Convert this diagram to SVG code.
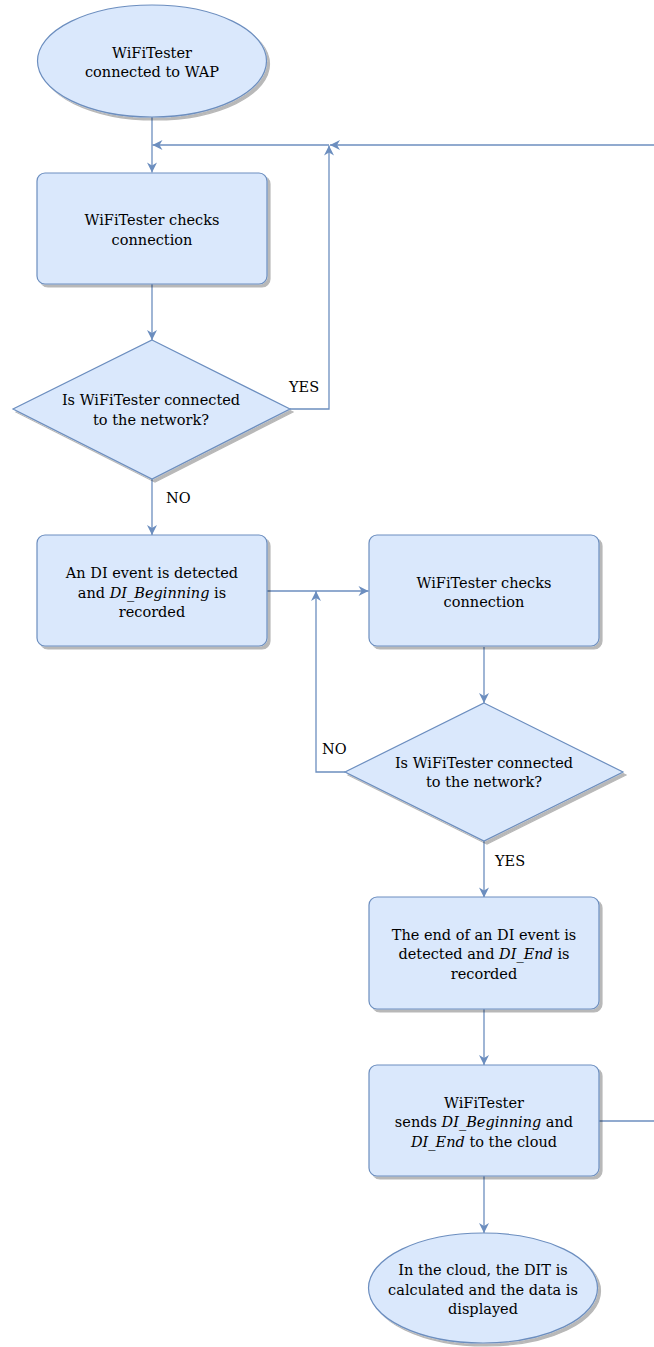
<svg xmlns="http://www.w3.org/2000/svg" width="654" height="1347" viewBox="0 0 654 1347">
<defs>
<filter id="sh" x="-10%" y="-10%" width="130%" height="130%">
<feOffset in="SourceAlpha" dx="3" dy="3" result="o"/>
<feGaussianBlur in="o" stdDeviation="0.6" result="b"/>
<feComponentTransfer in="b" result="s"><feFuncA type="linear" slope="0.28"/></feComponentTransfer>
<feMerge><feMergeNode in="s"/><feMergeNode in="SourceGraphic"/></feMerge>
</filter>
<marker id="ar" markerUnits="userSpaceOnUse" markerWidth="12" markerHeight="12" refX="10" refY="5" orient="auto" overflow="visible">
<path d="M0,0 L10,5 L0,10 L3,5 Z" fill="#6c8ebf"/>
</marker>
</defs>
<style>
.n{fill:#dae8fc;stroke:#6c8ebf;stroke-width:1.2;filter:url(#sh)}
.t{font-family:"DejaVu Serif","Liberation Serif",serif;font-size:14.5px;fill:#000;text-anchor:middle}
.l{font-family:"DejaVu Serif","Liberation Serif",serif;font-size:14.5px;fill:#000}
.e{fill:none;stroke:#6c8ebf;stroke-width:1.3}
.a{marker-end:url(#ar)}
i,.i{font-style:italic}
</style>
<rect width="654" height="1347" fill="#fff"/>
<g id="connectors">
<path class="e a" d="M152,117 V172.5"/>
<path class="e a" d="M152,284 V340"/>
<path class="e a" d="M290,409 H329 V145.5"/>
<path class="e a" d="M654,145 H330"/>
<path class="e a" d="M329,145 H152.5"/>
<path class="e a" d="M152,479 V535"/>
<path class="e a" d="M267,591 H368.5"/>
<path class="e a" d="M345,772 H316 V591"/>
<path class="e a" d="M484,647 V703"/>
<path class="e a" d="M484,841 V897.5"/>
<path class="e a" d="M484,1009 V1065"/>
<path class="e" d="M598,1121 H654"/>
<path class="e a" d="M484,1176 V1233"/>
<text class="l" x="289" y="392">YES</text>
<text class="l" x="166" y="503">NO</text>
<text class="l" x="322" y="754">NO</text>
<text class="l" x="495" y="866">YES</text>
</g>
<g id="start">
<ellipse class="n" cx="152" cy="61" rx="114.5" ry="56"/>
<text class="t" x="152" y="58">WiFiTester</text>
<text class="t" x="152" y="77">connected to WAP</text>
</g>
<g id="check1">
<rect class="n" x="37" y="173" width="230" height="111" rx="8"/>
<text class="t" x="152" y="225">WiFiTester checks</text>
<text class="t" x="152" y="245">connection</text>
</g>
<g id="decision1">
<polygon class="n" points="152,340 290,409 152,479 13,409"/>
<text class="t" x="151" y="405">Is WiFiTester connected</text>
<text class="t" x="151" y="425">to the network?</text>
</g>
<g id="di-begin">
<rect class="n" x="37" y="535" width="230" height="111" rx="8"/>
<text class="t" x="152" y="578">An DI event is detected</text>
<text class="t" x="152" y="598">and <tspan class="i">DI_Beginning</tspan> is</text>
<text class="t" x="152" y="617">recorded</text>
</g>
<g id="check2">
<rect class="n" x="369" y="535" width="230" height="111" rx="8"/>
<text class="t" x="484" y="588">WiFiTester checks</text>
<text class="t" x="484" y="607">connection</text>
</g>
<g id="decision2">
<polygon class="n" points="484,703 623,772 484,841 345,772"/>
<text class="t" x="484" y="768">Is WiFiTester connected</text>
<text class="t" x="484" y="787">to the network?</text>
</g>
<g id="di-end">
<rect class="n" x="369" y="897" width="230" height="112" rx="8"/>
<text class="t" x="484" y="940">The end of an DI event is</text>
<text class="t" x="484" y="959">detected and <tspan class="i">DI_End</tspan> is</text>
<text class="t" x="484" y="979">recorded</text>
</g>
<g id="send">
<rect class="n" x="369" y="1065" width="230" height="111" rx="8"/>
<text class="t" x="484" y="1108">WiFiTester</text>
<text class="t" x="484" y="1127">sends <tspan class="i">DI_Beginning</tspan> and</text>
<text class="t" x="484" y="1147"><tspan class="i">DI_End</tspan> to the cloud</text>
</g>
<g id="end">
<ellipse class="n" cx="483" cy="1288" rx="114.5" ry="55"/>
<text class="t" x="483" y="1275">In the cloud, the DIT is</text>
<text class="t" x="483" y="1295">calculated and the data is</text>
<text class="t" x="483" y="1314">displayed</text>
</g>
</svg>
